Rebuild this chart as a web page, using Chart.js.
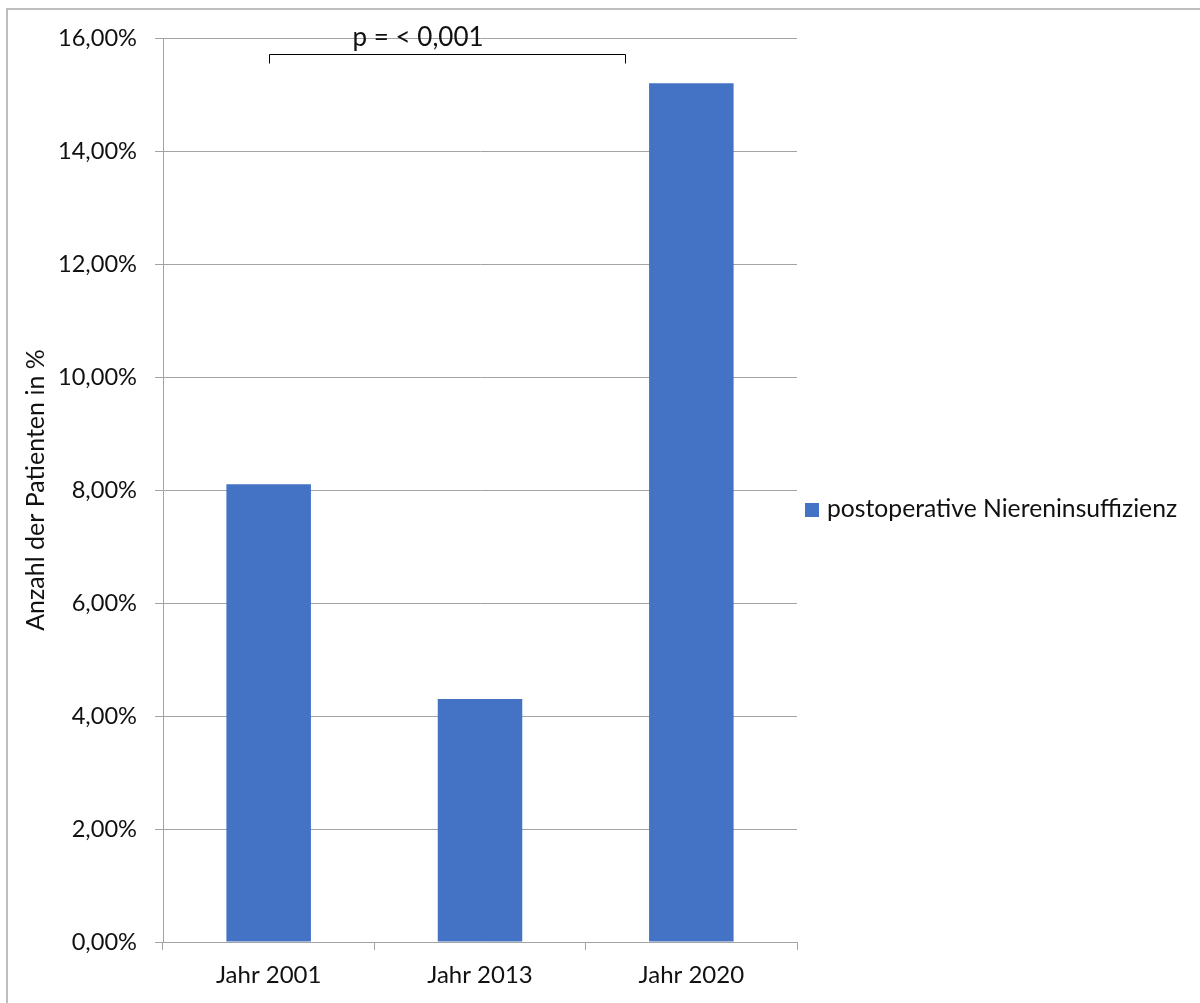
<!DOCTYPE html>
<html>
<head>
<meta charset="utf-8">
<script src="https://cdn.jsdelivr.net/npm/chart.js@4"></script>
<style>
  html, body { margin: 0; padding: 0; background: #fff; }
  #wrap { width: 1200px; height: 1003px; }
</style>
</head>
<body>
<div id="wrap"><canvas id="c" width="1200" height="1003"></canvas></div>
<script>
// Categories and series
const categories = ['Jahr 2001', 'Jahr 2013', 'Jahr 2020'];
const seriesLabel = 'postoperative Niereninsuffizienz';
const seriesValues = [8.1, 4.3, 15.2];   // percent of patients
const yTickMin = 0;
const yTickMax = 16;
const yTickStep = 2;
const yAxisTitle = 'Anzahl der Patienten in %';
const significanceText = 'p = < 0,001';

const FONT = "Lato, 'Open Sans', sans-serif";
const BAR = '#4472C4';
const GRID = '#a3a3a3';
const TEXT = '#111111';

// Frame around the chart object (left and top edges visible)
const framePlugin = {
  id: 'frame',
  beforeDraw(chart) {
    const ctx = chart.ctx;
    ctx.save();
    ctx.strokeStyle = '#a8a8a8';
    ctx.lineWidth = 1.5;
    ctx.beginPath();
    ctx.moveTo(7, chart.height);
    ctx.lineTo(7, 9);
    ctx.lineTo(chart.width, 9);
    ctx.stroke();
    ctx.restore();
  }
};

// Significance bracket between first category and the middle of the chart
const bracketPlugin = {
  id: 'bracket',
  afterDraw(chart) {
    const x = chart.scales.x, y = chart.scales.y, ctx = chart.ctx;
    const x0 = Math.round(x.getPixelForValue(0)) + 0.5;
    const x1 = Math.round(x.getPixelForValue(1.686)) + 0.5;
    const yTop = Math.round(y.getPixelForValue(15.72)) + 0.5;
    const yFoot = Math.round(y.getPixelForValue(15.55)) + 0.5;
    ctx.save();
    ctx.strokeStyle = '#000';
    ctx.lineWidth = 1;
    ctx.beginPath();
    ctx.moveTo(x0, yFoot);
    ctx.lineTo(x0, yTop);
    ctx.lineTo(x1, yTop);
    ctx.lineTo(x1, yFoot);
    ctx.stroke();
    ctx.fillStyle = TEXT;
    ctx.font = '26px ' + FONT;
    ctx.textAlign = 'center';
    ctx.textBaseline = 'alphabetic';
    ctx.fillText(significanceText, x.getPixelForValue(0.707), y.getPixelForValue(15.85));
    ctx.restore();
  }
};

// Legend entry to the right of the plot area
const legendPlugin = {
  id: 'sideLegend',
  afterDraw(chart) {
    const ds = chart.data.datasets[0];
    const ctx = chart.ctx;
    const area = chart.chartArea;
    const cy = (area.top + area.bottom) / 2 + 20;
    ctx.save();
    ctx.fillStyle = ds.backgroundColor;
    ctx.fillRect(area.right + 8, cy - 7, 14, 14);
    ctx.fillStyle = TEXT;
    ctx.font = '24.7px ' + FONT;
    ctx.textAlign = 'left';
    ctx.textBaseline = 'alphabetic';
    ctx.fillText(ds.label, area.right + 30, cy + 7);
    ctx.restore();
  }
};

new Chart(document.getElementById('c'), {
  type: 'bar',
  data: {
    labels: categories,
    datasets: [{
      label: seriesLabel,
      data: seriesValues,
      backgroundColor: BAR,
      borderWidth: 0,
      categoryPercentage: 1.0,
      barPercentage: 0.4
    }]
  },
  options: {
    responsive: false,
    animation: false,
    devicePixelRatio: 1,
    layout: { padding: { top: 38, right: 403, bottom: 0, left: 0 } },
    plugins: {
      legend: { display: false },
      tooltip: { enabled: false },
      title: { display: false }
    },
    scales: {
      x: {
        grid: { drawOnChartArea: false, drawTicks: true, tickLength: 8, color: GRID, lineWidth: 1 },
        border: { color: GRID, width: 1 },
        ticks: { color: TEXT, font: { family: FONT, size: 24 }, padding: 11, maxRotation: 0 },
        afterFit(scale) { scale.height = 61; }
      },
      y: {
        min: yTickMin,
        max: yTickMax,
        grid: { color: GRID, lineWidth: 1, tickLength: 8 },
        border: { color: GRID, width: 1 },
        ticks: {
          stepSize: yTickStep,
          color: TEXT,
          font: { family: FONT, size: 23.6 },
          padding: 18,
          callback: v => v.toFixed(2).replace('.', ',') + '%'
        },
        title: {
          display: true,
          text: yAxisTitle,
          color: TEXT,
          font: { family: FONT, size: 25 },
          padding: { top: 21, bottom: 0 }
        },
        afterFit(scale) { scale.width = 163; }
      }
    }
  },
  plugins: [framePlugin, bracketPlugin, legendPlugin]
});
</script>
</body>
</html>
